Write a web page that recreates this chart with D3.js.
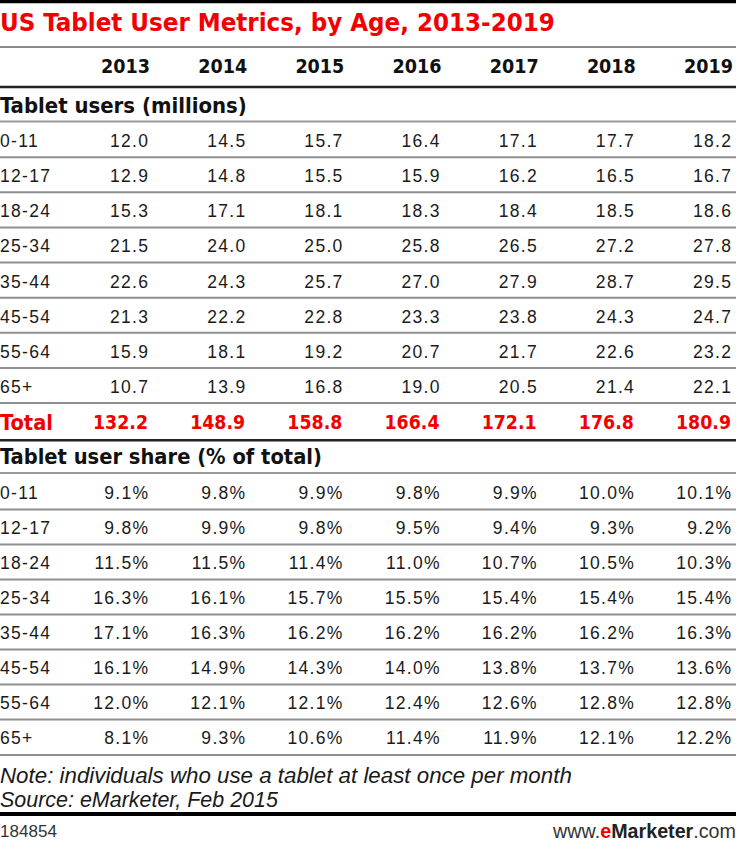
<!DOCTYPE html>
<html><head><meta charset="utf-8">
<script src="https://cdn.jsdelivr.net/npm/d3@7"></script>
<style>body{margin:0;background:#fff}svg{display:block}</style>
</head><body>
<script>
const title = "US Tablet User Metrics, by Age, 2013-2019";
const years = ["2013","2014","2015","2016","2017","2018","2019"];
const ages = ["0-11","12-17","18-24","25-34","35-44","45-54","55-64","65+"];
const section1 = "Tablet users (millions)";
const section2 = "Tablet user share (% of total)";
const users = [
  [12.0,14.5,15.7,16.4,17.1,17.7,18.2],
  [12.9,14.8,15.5,15.9,16.2,16.5,16.7],
  [15.3,17.1,18.1,18.3,18.4,18.5,18.6],
  [21.5,24.0,25.0,25.8,26.5,27.2,27.8],
  [22.6,24.3,25.7,27.0,27.9,28.7,29.5],
  [21.3,22.2,22.8,23.3,23.8,24.3,24.7],
  [15.9,18.1,19.2,20.7,21.7,22.6,23.2],
  [10.7,13.9,16.8,19.0,20.5,21.4,22.1]
];
const totals = [132.2,148.9,158.8,166.4,172.1,176.8,180.9];
const shares = [
  [9.1,9.8,9.9,9.8,9.9,10.0,10.1],
  [9.8,9.9,9.8,9.5,9.4,9.3,9.2],
  [11.5,11.5,11.4,11.0,10.7,10.5,10.3],
  [16.3,16.1,15.7,15.5,15.4,15.4,15.4],
  [17.1,16.3,16.2,16.2,16.2,16.2,16.3],
  [16.1,14.9,14.3,14.0,13.8,13.7,13.6],
  [12.0,12.1,12.1,12.4,12.6,12.8,12.8],
  [8.1,9.3,10.6,11.4,11.9,12.1,12.2]
];
const noteText = "Note: individuals who use a tablet at least once per month";
const sourceText = "Source: eMarketer, Feb 2015";
const chartId = "184854";

const W = 736, H = 846;
const svg = d3.select("body").append("svg").attr("width", W).attr("height", H);

const REG = "'Liberation Sans', Arial, sans-serif";
const BOLD = "'DejaVu Sans Condensed','DejaVu Sans', Verdana, sans-serif";
const RED = "#f20000";

const x = d3.scaleLinear().domain([0, years.length - 1]).range([148, 731]);
const y1 = d3.scaleLinear().domain([0, 8]).range([140.7, 421.7]); // 8 ages + total
const y2 = d3.scaleLinear().domain([0, 7]).range([493, 738]);

function fitSpacing(sel, w) {
  const node = sel.node();
  sel.attr("letter-spacing", 0);
  const nat = node.getComputedTextLength();
  const n = node.textContent.length;
  sel.attr("letter-spacing", (w - nat) / Math.max(1, n - 1));
}
function fitSize(sel, w) {
  const node = sel.node();
  const fs = parseFloat(sel.attr("font-size"));
  const nat = node.getComputedTextLength();
  sel.attr("font-size", fs * w / nat);
}
function hline(yy, color, sw) {
  svg.append("line").attr("x1", 0).attr("x2", W).attr("y1", yy).attr("y2", yy)
    .attr("stroke", color).attr("stroke-width", sw);
}

// rules
hline(1.5, "#000", 3.5);
hline(47, "#8a8a8a", 2);
hline(87, "#222", 2.5);
hline(121.5, "#9a9a9a", 2);
for (let i = 0; i < 8; i++) hline(y1(i) + 16.5, "#8f8f8f", 2);
hline(y1(8) + 18.5, "#222", 2.5);
hline(473, "#9a9a9a", 2);
for (let i = 0; i < 8; i++) hline(y2(i) + (i === 7 ? 17 : 16.5), "#8f8f8f", 2);
hline(814, "#000", 4);

// title
const t = svg.append("text").attr("x", 0).attr("y", 22).attr("dy", "0.36em")
  .attr("font-family", BOLD)
  .attr("font-weight", "bold").attr("font-size", 23).attr("fill", RED).text(title);
fitSize(t, 555);

// header years
const yearText = svg.append("g").selectAll("text").data(years).join("text")
  .attr("x", (d, i) => x(i) + 2).attr("y", 66).attr("dy", "0.36em")
  .attr("text-anchor", "end").attr("font-family", BOLD).attr("font-weight", "bold")
  .attr("font-size", 18).attr("fill", "#111").text(d => d);
fitSize(yearText, 49);

// section headers
const s1 = svg.append("text").attr("x", 0).attr("y", 105).attr("dy", "0.36em")
  .attr("font-family", BOLD).attr("font-weight", "bold").attr("font-size", 18)
  .attr("fill", "#111").text(section1);
fitSize(s1, 247);
const s2 = svg.append("text").attr("x", 0).attr("y", 456).attr("dy", "0.36em")
  .attr("font-family", BOLD).attr("font-weight", "bold").attr("font-size", 18)
  .attr("fill", "#111").text(section2);
fitSize(s2, 322);

function drawRows(rows, yScale, fmt) {
  const g = svg.append("g");
  rows.forEach((row, r) => {
    g.append("text").attr("x", 0).attr("y", yScale(r)).attr("dy", "0.36em")
      .attr("font-family", REG).attr("font-size", 17.5).attr("letter-spacing", 1.3)
      .attr("fill", "#1a1a1a").text(ages[r]);
    g.selectAll(null).data(row).join("text")
      .attr("x", (d, i) => x(i) + 1.3).attr("y", yScale(r)).attr("dy", "0.36em")
      .attr("text-anchor", "end").attr("font-family", REG).attr("font-size", 17.5)
      .attr("letter-spacing", 1.3).attr("fill", "#1a1a1a").text(fmt);
  });
}
drawRows(users, y1, d => d.toFixed(1));
drawRows(shares, y2, d => d.toFixed(1) + "%");

// total row
const tl = svg.append("text").attr("x", 0).attr("y", y1(8)).attr("dy", "0.36em")
  .attr("font-family", BOLD).attr("font-weight", "bold").attr("font-size", 18)
  .attr("fill", RED).text("Total");
fitSize(tl, 53);
const totalText = svg.append("g").selectAll("text").data(totals).join("text")
  .attr("x", (d, i) => x(i)).attr("y", y1(8)).attr("dy", "0.36em")
  .attr("text-anchor", "end").attr("font-family", BOLD).attr("font-weight", "bold")
  .attr("font-size", 18).attr("fill", RED).text(d => d.toFixed(1));
fitSize(totalText, 55);

// notes
const n1 = svg.append("text").attr("x", 0).attr("y", 775).attr("dy", "0.36em")
  .attr("font-family", REG).attr("font-style", "italic").attr("font-size", 19)
  .attr("fill", "#1a1a1a").text(noteText);
fitSize(n1, 572);
const n2 = svg.append("text").attr("x", 0).attr("y", 799).attr("dy", "0.36em")
  .attr("font-family", REG).attr("font-style", "italic").attr("font-size", 19)
  .attr("fill", "#1a1a1a").text(sourceText);
fitSize(n2, 278);

// footer
const f1 = svg.append("text").attr("x", 0).attr("y", 831).attr("dy", "0.36em")
  .attr("font-family", REG).attr("font-size", 15).attr("fill", "#333").text(chartId);
fitSize(f1, 57);
const brand = svg.append("text").attr("x", W).attr("y", 831).attr("dy", "0.36em")
  .attr("text-anchor", "end").attr("font-family", REG).attr("font-size", 16).attr("fill", "#333");
brand.append("tspan").text("www.");
brand.append("tspan").attr("font-weight", "bold").attr("fill", RED).text("e");
brand.append("tspan").attr("font-weight", "bold").attr("fill", "#222").text("Marketer");
brand.append("tspan").text(".com");
fitSize(brand, 183);
</script>
</body></html>
